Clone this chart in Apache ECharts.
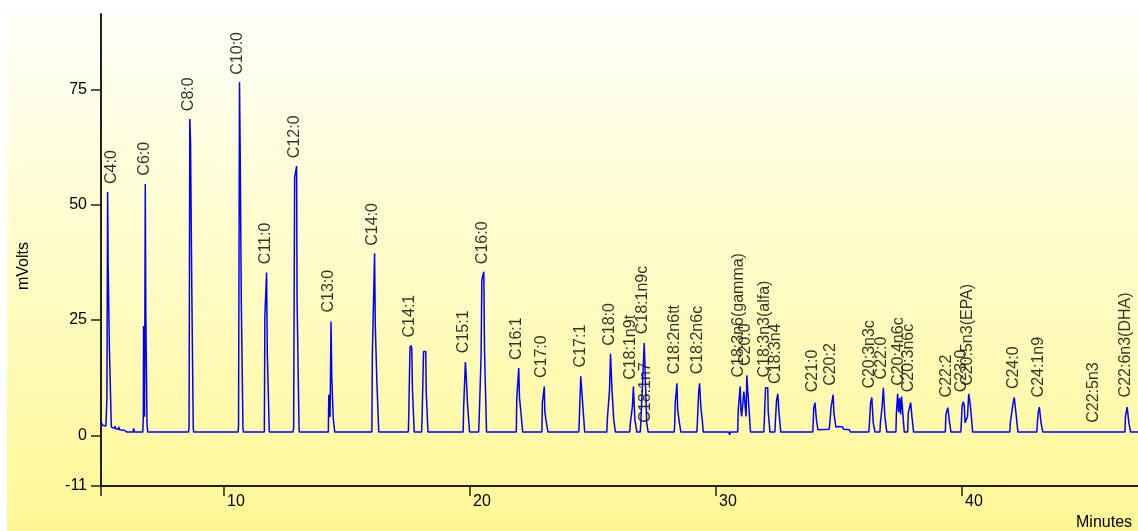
<!DOCTYPE html>
<html>
<head>
<meta charset="utf-8">
<title>Chromatogram</title>
<script src="https://cdn.jsdelivr.net/npm/echarts@6/dist/echarts.min.js"></script>
<style>
  html, body { margin: 0; padding: 0; background: #ffffff; }
  #chart { width: 1138px; height: 531px; }
</style>
</head>
<body>
<div id="chart"></div>
<script>
// Detector trace, [minutes, mV], first part (C4:0 .. C14:1)
const traceEarly = [
  [5.00,3.0],[5.03,2.7],[5.06,2.2],[5.12,2.0],[5.20,2.0],
  [5.22,2.0],[5.24,8],[5.27,52.8],[5.29,37.1],[5.32,37.1],[5.34,19.2],[5.40,19.2],[5.42,1.8],
  [5.50,1.6],[5.55,1.5],[5.58,2.0],[5.60,1.4],[5.70,1.3],[5.73,1.8],[5.75,1.2],[5.95,1.1],[6.05,0.7],[6.30,0.7],[6.33,1.5],[6.36,0.7],
  [6.70,0.7],[6.72,4],[6.73,23.7],[6.76,23.7],[6.77,4],[6.79,4],[6.80,54.5],[6.82,27.4],[6.85,27.4],[6.87,2.5],[6.90,0.7],
  [8.56,0.7],[8.58,2],[8.61,68.6],[8.64,63.5],[8.67,63.5],[8.69,32],[8.73,32],[8.75,1.5],[8.77,0.7],
  [10.57,0.7],[10.59,2],[10.63,76.6],[10.66,60],[10.69,60],[10.70,30.3],[10.75,30.3],[10.77,1.5],[10.79,0.7],
  [11.64,0.7],[11.66,25.7],[11.70,25.7],[11.73,35.3],[11.76,17.7],[11.81,17.7],[11.84,0.7],
  [12.80,0.7],[12.83,1.5],[12.87,55.9],[12.93,55.9],[12.95,58.4],[12.97,29.3],[13.02,29.3],[13.05,1.2],[13.07,0.7],
  [14.24,0.7],[14.26,8.8],[14.30,8.8],[14.31,4],[14.33,4],[14.35,24.7],[14.38,12.7],[14.42,12.7],[14.44,3.7],[14.48,3.7],[14.50,0.7],
  [16.01,0.7],[16.03,17.7],[16.08,17.7],[16.12,39.5],[16.15,23.7],[16.19,23.7],[16.21,12.1],[16.26,12.1],[16.29,0.7],
  [17.49,0.7],[17.50,1.9],[17.55,1.9],[17.56,19.0],[17.59,19.5],[17.63,19.0],[17.66,10],[17.71,10],[17.73,0.7]
];

// Second part (18 min .. C18:2n6c)
const traceMiddle = [
  [18.03,0.7],[18.05,3.4],[18.10,3.4],[18.11,18.2],[18.20,18.2],[18.22,9.3],[18.27,9.3],[18.29,0.7],
  [19.72,0.7],[19.74,5.9],[19.79,5.9],[19.81,15.9],[19.84,13.4],[19.88,13.4],[19.90,6.6],[19.96,6.6],[19.98,0.7],
  [20.35,0.7],[20.37,3.5],[20.43,3.5],[20.45,17.3],[20.48,33.7],[20.53,33.7],[20.56,35.5],[20.59,17.9],[20.64,17.9],[20.67,0.7],
  [21.88,0.7],[21.90,8.2],[21.96,8.2],[21.98,14.6],[22.01,8.2],[22.06,8.2],[22.08,4.3],[22.12,4.3],[22.14,0.7],
  [22.92,0.7],[22.94,7.1],[22.99,7.1],[23.02,10.6],[23.04,5.2],[23.09,5.2],[23.11,2.5],[23.15,2.5],[23.17,0.7],
  [24.42,0.7],[24.44,3.2],[24.49,3.2],[24.50,12.8],[24.55,13.0],[24.58,6.8],[24.64,6.8],[24.66,0.7],
  [25.56,0.7],[25.58,3.4],[25.65,3.4],[25.67,9.9],[25.71,17.7],[25.75,17.7],[25.77,9.9],[25.82,9.9],[25.84,3.4],[25.89,3.4],[25.91,0.7],
  [26.49,0.7],[26.51,2.3],[26.58,2.3],[26.60,6.3],[26.64,10.6],[26.68,10.6],[26.70,3.4],[26.76,3.4],[26.78,0.7],
  [26.92,0.7],[26.94,2.7],[26.98,2.7],[27.00,9.9],[27.05,9.9],[27.08,20.0],[27.11,15.0],[27.16,15.0],[27.18,2.7],[27.22,2.7],[27.24,0.7],
  [28.30,0.7],[28.32,2.7],[28.34,7.0],[28.38,7.0],[28.41,11.3],[28.44,5.5],[28.49,5.5],[28.51,2.7],[28.55,2.7],[28.57,0.7],
  [29.22,0.7],[29.24,2.7],[29.28,2.7],[29.29,9.2],[29.33,11.3],[29.36,11.3],[29.38,6.3],[29.43,6.3],[29.45,2.7],[29.48,0.7]
];

// Third part (30 min .. end of run)
const traceLate = [
  [30.52,0.7],[30.55,0.1],[30.58,0.7],
  [30.88,0.7],[30.90,5.5],[30.94,5.5],[30.98,10.6],[31.01,5.5],[31.04,4.1],[31.10,4.1],[31.13,9.5],[31.18,9.5],[31.22,4.1],[31.25,13.0],[31.29,9.5],[31.32,7.3],[31.37,7.3],[31.40,0.7],
  [31.94,0.7],[31.96,3.0],[32.00,3.0],[32.01,10.3],[32.10,10.3],[32.12,5.2],[32.17,5.2],[32.19,0.7],
  [32.39,0.7],[32.41,3.0],[32.45,3.0],[32.46,7.7],[32.51,9.0],[32.54,9.0],[32.56,4.8],[32.61,4.8],[32.63,0.7],
  [33.93,0.7],[33.95,3.0],[33.97,5.9],[34.02,7.1],[34.06,7.1],[34.08,3.4],[34.12,3.4],[34.14,1.2],[34.60,1.3],
  [34.66,1.3],[34.68,6.3],[34.73,6.3],[34.76,8.8],[34.79,4.8],[34.84,4.8],[34.87,1.8],[34.95,2.2],[35.00,1.9],[35.15,1.8],[35.18,1.3],[35.42,1.2],[35.46,0.7],
  [36.21,0.7],[36.23,2.3],[36.27,2.3],[36.28,7.0],[36.33,8.2],[36.36,8.2],[36.39,2.7],[36.44,2.7],[36.46,0.7],
  [36.66,0.7],[36.68,2.7],[36.73,2.7],[36.75,6.3],[36.80,10.3],[36.84,10.3],[36.86,4.1],[36.92,4.1],[36.94,0.7],
  [37.31,0.7],[37.33,4.8],[37.36,4.8],[37.38,9.0],[37.42,5.0],[37.46,8.1],[37.50,4.5],[37.54,8.4],[37.58,5.5],[37.63,5.5],[37.65,0.7],
  [37.79,0.7],[37.81,4.8],[37.85,4.8],[37.91,7.1],[37.94,7.1],[37.96,4.1],[38.01,4.1],[38.03,0.7],
  [39.32,0.7],[39.34,4.5],[39.38,4.5],[39.42,6.0],[39.46,6.0],[39.49,2.8],[39.53,2.8],[39.55,0.7],
  [39.95,0.7],[39.97,2.7],[40.00,6.3],[40.05,7.3],[40.09,6.3],[40.12,2.7],[40.18,2.7],[40.22,4.1],[40.27,9.0],[40.31,9.0],[40.34,6.3],[40.40,6.3],[40.43,0.7],
  [41.94,0.7],[41.96,2.7],[42.03,2.7],[42.06,6.6],[42.12,8.2],[42.16,8.2],[42.19,4.8],[42.24,4.8],[42.27,0.7],
  [43.04,0.7],[43.06,2.7],[43.09,4.8],[43.14,6.1],[43.19,6.1],[43.21,2.7],[43.26,2.7],[43.28,0.7],
  [46.62,0.7],[46.64,4.1],[46.68,4.1],[46.71,6.1],[46.75,6.1],[46.78,2.7],[46.83,2.7],[46.85,0.7],[47.15,0.7]
];

// Peak identifications: name, retention time (min) and apex height (mV)
const peakNames = [
  'C4:0','C6:0','C8:0','C10:0','C11:0','C12:0','C13:0','C14:0','C14:1','C15:1',
  'C16:0','C16:1','C17:0','C17:1','C18:0','C18:1n9t','C18:1n9c','C18:1n7','C18:2n6tt','C18:2n6c',
  'C18:3n6(gamma)','C20:0','C18:3n3(alfa)','C18:3n4','C21:0','C20:2','C20:3n3c','C22:0','C20:4n6c','C20:3n6c',
  'C22:2','C23:0','C20:5n3(EPA)','C24:0','C24:1n9','C22:5n3','C22:6n3(DHA)'
];
const peakTimes = [
  5.43, 6.76, 8.58, 10.56, 11.67, 12.86, 14.27, 16.04, 17.56, 19.73,
  20.50, 21.90, 22.91, 24.51, 25.69, 26.53, 27.02, 27.15, 28.33, 29.26,
  30.91, 31.21, 31.96, 32.43, 33.93, 34.67, 36.26, 36.74, 37.43, 37.82,
  39.38, 39.99, 40.23, 42.09, 43.10, 45.34, 46.63
];
const peakHeights = [
  52.9, 54.7, 68.7, 76.6, 35.5, 58.5, 25.0, 39.5, 19.6, 16.2,
  35.5, 14.7, 10.8, 13.1, 17.8, 10.4, 20.3, 1.1, 11.6, 11.6,
  10.9, 13.4, 10.9, 9.5, 7.7, 9.1, 8.5, 10.5, 9.1, 7.7,
  6.6, 7.7, 9.1, 8.4, 6.6, 1.1, 6.6
];

// Axis ticks
const xTickValues = [5, 10, 20, 30, 40];
const xLabelValues = [10, 20, 30, 40];
const yTickValues = [-11, 0, 25, 50, 75];

const FONT = 'Liberation Sans, Arial, sans-serif';
const chart = echarts.init(document.getElementById('chart'), null, { renderer: 'canvas' });

const trace = traceEarly.concat(traceMiddle, traceLate);
const peakMarks = peakNames.map((n, i) => [peakTimes[i], peakHeights[i], n]);

chart.setOption({
  animation: false,
  backgroundColor: 'transparent',
  graphic: [
    {
      type: 'rect', z: -10, silent: true,
      shape: { x: 7, y: 14, width: 1131, height: 517 },
      style: {
        fill: new echarts.graphic.LinearGradient(0, 0, 0, 1, [
          { offset: 0, color: '#FFFFF8' },
          { offset: 0.45, color: '#FFFCCB' },
          { offset: 1, color: '#FFF795' }
        ])
      }
    },
    {
      type: 'text', x: 24, y: 266, rotation: Math.PI / 2,
      style: { text: 'mVolts', font: '16px ' + FONT, fill: '#000', align: 'center', verticalAlign: 'middle' }
    },
    {
      type: 'text', x: 1076, y: 523,
      style: { text: 'Minutes', font: '16px ' + FONT, fill: '#000', align: 'left', verticalAlign: 'middle' }
    }
  ],
  grid: { left: 101, right: 0, top: 14, bottom: 45, containLabel: false },
  xAxis: {
    type: 'value', min: 5, max: 47.15,
    axisLine: { show: true, onZero: false, lineStyle: { color: '#222', width: 2 } },
    axisTick: { show: true, length: 10, customValues: xTickValues, lineStyle: { color: '#222', width: 1.5 } },
    axisLabel: {
      customValues: xLabelValues, align: 'left', margin: 8, padding: [0, 0, 0, 3],
      fontSize: 16, fontFamily: FONT, color: '#000'
    },
    splitLine: { show: false }
  },
  yAxis: {
    type: 'value', min: -11, max: 91.4,
    axisLine: { show: true, lineStyle: { color: '#222', width: 2 } },
    axisTick: { show: true, length: 10, customValues: yTickValues, lineStyle: { color: '#222', width: 1.5 } },
    axisLabel: { customValues: yTickValues, margin: 14, fontSize: 16, fontFamily: FONT, color: '#000' },
    splitLine: { show: false }
  },
  series: [
    {
      type: 'line', data: trace, symbol: 'none', silent: true,
      lineStyle: { color: '#0000FF', width: 1.5 }
    },
    {
      type: 'scatter', data: peakMarks, symbol: 'circle', symbolSize: 1, silent: true,
      itemStyle: { color: 'rgba(0,0,0,0)' },
      label: {
        show: true, position: 'top', distance: 7, rotate: 90,
        align: 'left', verticalAlign: 'middle',
        fontSize: 16, fontFamily: FONT, color: '#000',
        formatter: p => p.data[2]
      },
      labelLayout: { hideOverlap: false }
    }
  ]
});
</script>
</body>
</html>
